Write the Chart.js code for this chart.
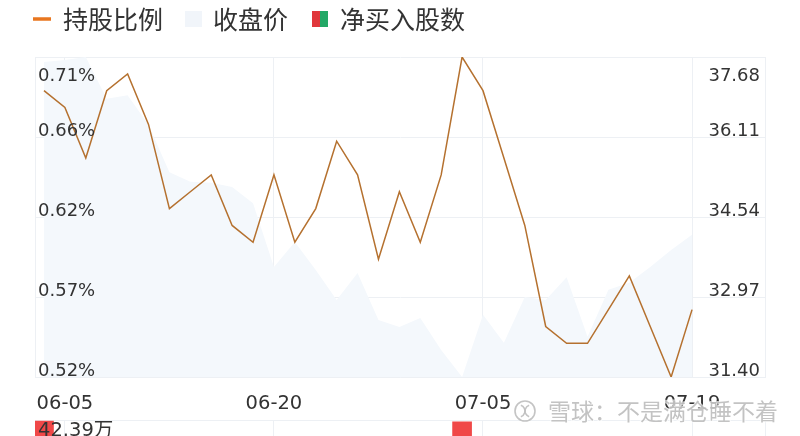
<!DOCTYPE html>
<html>
<head>
<meta charset="utf-8">
<script src="https://cdn.jsdelivr.net/npm/chart.js@4.4.1/dist/chart.umd.min.js"></script>
<style>
  html, body { margin: 0; padding: 0; background: #fff; overflow: hidden; }
  #wrap { position: relative; width: 800px; height: 436px; overflow: hidden; }
  #netCanvas { position: absolute; left: 0; top: 420px; }
  #mainCanvas { position: absolute; left: 0; top: 0; }
</style>
</head>
<body>
<div id="wrap">
  <canvas id="netCanvas" width="800" height="160"></canvas>
  <canvas id="mainCanvas" width="800" height="436"></canvas>
</div>
<script>
// trading days shown on the chart
const dates = ['06-04','06-05','06-06','06-07','06-11','06-12','06-13','06-14','06-17','06-18',
               '06-19','06-20','06-21','06-24','06-25','06-26','06-27','06-28','07-02','07-03',
               '07-04','07-05','07-08','07-09','07-10','07-11','07-12','07-15','07-16','07-17',
               '07-18','07-19'];
// 持股比例 (%)
const holdRatio = [0.69,0.68,0.65,0.69,0.70,0.67,0.62,0.63,0.64,0.61,
                   0.60,0.64,0.60,0.62,0.66,0.64,0.59,0.63,0.60,0.64,
                   0.71,0.69,0.65,0.61,0.55,0.54,0.54,0.56,0.58,0.55,
                   0.52,0.56];
// 收盘价
const closePrice = [37.58,37.62,37.68,36.86,36.93,36.35,35.42,35.23,35.21,35.13,
                    34.81,33.56,34.05,33.50,32.91,33.44,32.52,32.38,32.56,31.93,
                    31.40,32.62,32.07,32.97,32.91,33.36,32.19,33.11,33.25,33.56,
                    33.89,34.19];
// 净买入股数 (万股), only the bars visible at the cut edge are known
const netBuy = [42.39,null,null,null,null,null,null,null,null,null,
                null,null,null,null,null,null,null,null,null,null,
                42.0,null,null,null,null,null,null,null,null,null,
                null,null];
const xTickIdx = [1, 11, 21, 31];
const leftTicks = ['0.52%', '0.57%', '0.62%', '0.66%', '0.71%'];
const rightTicks = ['31.40', '32.97', '34.54', '36.11', '37.68'];
const legendNames = ['持股比例', '收盘价', '净买入股数'];
const netMaxLabel = '42.39万';

const gridColor = '#edf0f4';
const textColor = '#333333';
const numFont = '"DejaVu Sans"';
const cjkFont = '"Noto Sans CJK SC"';

const xRange = { min: -0.43, max: 34.49 };

function evenTicks(scale, count) {
  const step = (scale.max - scale.min) / (count - 1);
  scale.ticks = Array.from({ length: count }, (_, k) => ({ value: scale.min + k * step }));
}

const mainLabels = {
  id: 'mainLabels',
  afterDraw(chart) {
    const ctx = chart.ctx;
    ctx.save();
    // legend
    ctx.strokeStyle = '#e8761f';
    ctx.lineWidth = 3.5;
    ctx.beginPath();
    ctx.moveTo(33, 19);
    ctx.lineTo(51, 19);
    ctx.stroke();
    ctx.fillStyle = '#f1f5fa';
    ctx.fillRect(185, 11, 17, 16);
    ctx.fillStyle = '#e0373c';
    ctx.fillRect(312, 11, 8, 16);
    ctx.fillStyle = '#23a866';
    ctx.fillRect(320, 11, 8, 16);
    ctx.fillStyle = textColor;
    ctx.font = '25px ' + cjkFont;
    ctx.textBaseline = 'middle';
    ctx.textAlign = 'left';
    ctx.fillText(legendNames[0], 63, 19);
    ctx.fillText(legendNames[1], 213, 19);
    ctx.fillText(legendNames[2], 340, 19);

    // axis labels inside the plot
    const y = chart.scales.y;
    ctx.font = '18px ' + numFont;
    ctx.textBaseline = 'alphabetic';
    y.ticks.forEach((t, k) => {
      const py = y.getPixelForValue(t.value);
      const base = k === y.ticks.length - 1 ? py + 23.5 : py - 1.5;
      ctx.textAlign = 'left';
      ctx.fillText(leftTicks[k], 38, base);
      ctx.textAlign = 'right';
      ctx.fillText(rightTicks[k], 760, base);
    });

    // watermark
    ctx.strokeStyle = 'rgba(190,190,190,0.9)';
    ctx.lineWidth = 1.6;
    ctx.beginPath();
    ctx.arc(525, 411, 10, 0, Math.PI * 2);
    ctx.stroke();
    ctx.beginPath();
    ctx.arc(519, 411, 6, -Math.PI / 2.5, Math.PI / 2.5);
    ctx.stroke();
    ctx.beginPath();
    ctx.arc(531, 411, 6, Math.PI - Math.PI / 2.5, Math.PI + Math.PI / 2.5);
    ctx.stroke();
    ctx.font = '23px ' + cjkFont;
    ctx.textAlign = 'left';
    ctx.textBaseline = 'middle';
    ctx.lineWidth = 2;
    ctx.strokeStyle = 'rgba(255,255,255,0.7)';
    ctx.strokeText('雪球：不是满仓睡不着', 548, 411);
    ctx.fillStyle = 'rgba(185,185,185,0.85)';
    ctx.fillText('雪球：不是满仓睡不着', 548, 411);
    ctx.restore();
  }
};

new Chart(document.getElementById('mainCanvas').getContext('2d'), {
  type: 'line',
  data: {
    datasets: [
      {
        label: legendNames[0],
        data: holdRatio.map((v, i) => ({ x: i, y: v })),
        borderColor: '#b5712f',
        borderWidth: 1.5,
        pointRadius: 0,
        tension: 0,
        yAxisID: 'y',
        order: 0
      },
      {
        label: legendNames[1],
        data: closePrice.map((v, i) => ({ x: i, y: v })),
        borderColor: 'rgba(0,0,0,0)',
        borderWidth: 0,
        backgroundColor: '#f4f8fc',
        fill: 'start',
        pointRadius: 0,
        tension: 0,
        yAxisID: 'y1',
        order: 1
      }
    ]
  },
  options: {
    responsive: false,
    animation: false,
    layout: { padding: { left: 35, right: 35, top: 57, bottom: 0 } },
    plugins: { legend: { display: false }, tooltip: { enabled: false } },
    scales: {
      x: {
        type: 'linear',
        min: xRange.min,
        max: xRange.max,
        afterBuildTicks: s => { s.ticks = xTickIdx.map(v => ({ value: v })); },
        afterFit: s => { s.height = 59; },
        grid: { color: gridColor, drawTicks: false },
        border: { color: gridColor },
        ticks: {
          autoSkip: false,
          maxRotation: 0,
          padding: 15,
          color: textColor,
          font: { family: 'DejaVu Sans', size: 19.5 },
          callback: v => dates[v]
        }
      },
      y: {
        position: 'left',
        min: 0.52,
        max: 0.71,
        afterBuildTicks: s => evenTicks(s, leftTicks.length),
        afterFit: s => { s.width = 0; },
        grid: { color: gridColor, drawTicks: false },
        border: { color: gridColor },
        ticks: { display: false }
      },
      y1: {
        position: 'right',
        min: 31.40,
        max: 37.68,
        afterBuildTicks: s => evenTicks(s, rightTicks.length),
        afterFit: s => { s.width = 0; },
        grid: { display: false, drawTicks: false },
        border: { color: gridColor },
        ticks: { display: false }
      }
    }
  },
  plugins: [mainLabels]
});

const netLabels = {
  id: 'netLabels',
  afterDraw(chart) {
    const ctx = chart.ctx;
    ctx.save();
    ctx.fillStyle = textColor;
    ctx.font = '19.5px ' + numFont + ', ' + cjkFont;
    ctx.textAlign = 'left';
    ctx.textBaseline = 'alphabetic';
    ctx.fillText(netMaxLabel, 38, 16);
    ctx.restore();
  }
};

new Chart(document.getElementById('netCanvas').getContext('2d'), {
  type: 'bar',
  data: {
    datasets: [{
      label: legendNames[2],
      data: netBuy.map((v, i) => ({ x: i, y: v })),
      backgroundColor: netBuy.map(v => (v !== null && v < 0) ? '#23a866' : '#f04848'),
      barThickness: 19
    }]
  },
  options: {
    responsive: false,
    animation: false,
    layout: { padding: { left: 35, right: 35, top: 0, bottom: 0 } },
    plugins: { legend: { display: false }, tooltip: { enabled: false } },
    scales: {
      x: {
        type: 'linear',
        offset: false,
        min: xRange.min,
        max: xRange.max,
        afterBuildTicks: s => { s.ticks = xTickIdx.map(v => ({ value: v })); },
        afterFit: s => { s.height = 0; },
        grid: { color: gridColor, drawTicks: false, offset: false },
        border: { display: false },
        ticks: { display: false }
      },
      y: {
        position: 'left',
        min: -43,
        max: 43,
        afterBuildTicks: s => { s.ticks = [{ value: 43 }]; },
        afterFit: s => { s.width = 0; },
        grid: { color: gridColor, drawTicks: false },
        border: { color: gridColor },
        ticks: { display: false }
      },
      yr: {
        position: 'right',
        min: -43,
        max: 43,
        afterFit: s => { s.width = 0; },
        grid: { display: false, drawTicks: false },
        border: { color: gridColor },
        ticks: { display: false }
      }
    }
  },
  plugins: [netLabels]
});
</script>
</body>
</html>
